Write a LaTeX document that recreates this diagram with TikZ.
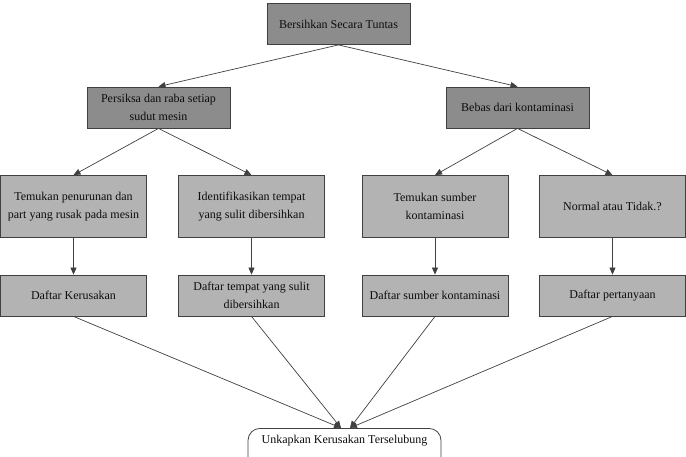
\documentclass[tikz,border=0pt]{standalone}
\usepackage{fontspec}
\setmainfont{Liberation Serif}
\usetikzlibrary{arrows.meta}
\definecolor{darkbox}{HTML}{8C8C8C}
\definecolor{lightbox}{HTML}{B3B3B3}
\definecolor{edge}{HTML}{404040}
\begin{document}
\begin{tikzpicture}[x=1pt,y=-1pt,
  every node/.style={font=\fontsize{12}{17.5}\selectfont, text=black!95, align=center, inner sep=0pt},
  darkstep/.style={draw=edge, line width=0.8pt, fill=darkbox, minimum width=143pt, minimum height=41pt},
  lightstep/.style={draw=edge, line width=0.8pt, fill=lightbox, minimum width=146pt},
  tall/.style={lightstep, minimum height=62pt},
  short/.style={lightstep, minimum height=41pt},
  endbox/.style={draw=edge, line width=0.8pt, fill=white, rounded corners=12pt, minimum width=193pt, minimum height=44pt},
  conn/.style={draw=edge, line width=0.7pt, -{Triangle[length=7pt,width=6pt]}}]
\useasboundingbox (0,0) rectangle (686,456);
\clip (0,0) rectangle (686,456);
\node[darkstep] (top) at (338.5,24) {Bersihkan Secara Tuntas};
\node[darkstep] (l) at (158.5,107.5) {Persiksa dan raba setiap\\sudut mesin};
\node[darkstep] (r) at (517.5,107.5) {Bebas dari kontaminasi};
\node[tall] (a1) at (73.5,206.5) {Temukan penurunan dan\\part yang rusak pada mesin};
\node[tall] (a2) at (251.5,206.5) {Identifikasikan tempat\\yang sulit dibersihkan};
\node[tall] (a3) at (435,206.5) {Temukan sumber\\kontaminasi};
\node[tall] (a4) at (612.5,206.5) {Normal atau Tidak.?};
\node[short] (b1) at (73.5,295.5) {Daftar Kerusakan};
\node[short] (b2) at (251.5,295.5) {Daftar tempat yang sulit\\dibersihkan};
\node[short] (b3) at (435,295.5) {Daftar sumber kontaminasi};
\node[short] (b4) at (612.5,295.5) {Daftar pertanyaan};
\node[endbox, anchor=north] (end) at (344.5,428) {\raisebox{0pt}[0pt][0pt]{\raisebox{7pt}{Unkapkan Kerusakan Terselubung}}};
\coordinate (eL) at (341,428);
\coordinate (eR) at (350,428);
\draw[conn] (top.south) -- (l.north);
\draw[conn] (top.south) -- (r.north);
\draw[conn] (l.south) -- (a1.north);
\draw[conn] (l.south) -- (a2.north);
\draw[conn] (r.south) -- (a3.north);
\draw[conn] (r.south) -- (a4.north);
\draw[conn] (a1) -- (b1);
\draw[conn] (a2) -- (b2);
\draw[conn] (a3) -- (b3);
\draw[conn] (a4) -- (b4);
\draw[conn] (b1.south) -- (eL);
\draw[conn] (b2.south) -- (eL);
\draw[conn] (b3.south) -- (eR);
\draw[conn] (b4.south) -- (eR);
\end{tikzpicture}
\end{document}
